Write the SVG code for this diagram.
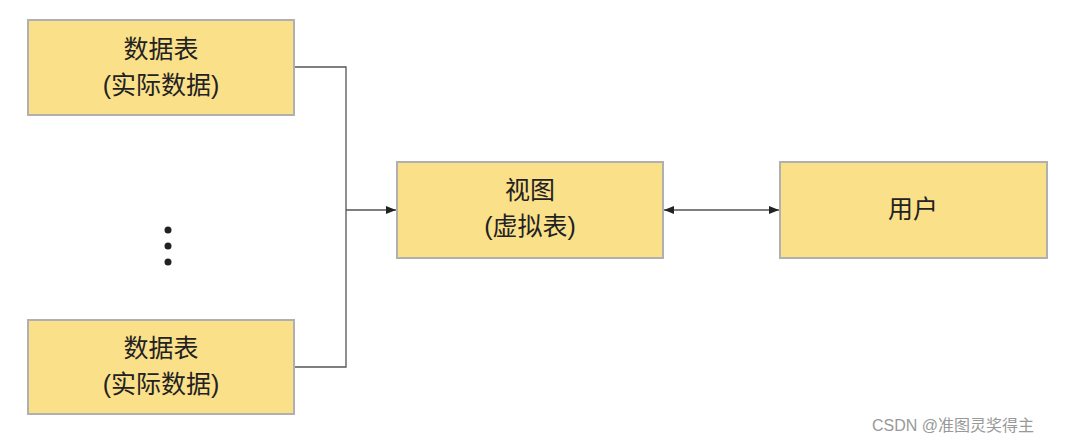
<svg xmlns="http://www.w3.org/2000/svg" width="1079" height="443" viewBox="0 0 1079 443">
<style>
.box{fill:#FBE08A;stroke:#B0B0B0;stroke-width:2}
.t{font-family:"Liberation Sans","Noto Sans CJK SC",sans-serif;font-size:25px;fill:#222;text-anchor:middle}
.c{fill:none;stroke:#555;stroke-width:1.3}
</style>
<defs>
<marker id="a" viewBox="0 0 10 10" refX="10" refY="5" markerWidth="8" markerHeight="8" orient="auto-start-reverse"><path d="M0,1 L10,5 L0,9 z" fill="#222"/></marker>
</defs>
<rect width="1079" height="443" fill="#fff"/>
<g id="connectors">
<path class="c" d="M294,67 H346 V367 H294"/>
<path class="c" d="M346,210 H396" marker-end="url(#a)"/>
<path class="c" d="M664,210 H779" marker-start="url(#a)" marker-end="url(#a)"/>
</g>
<g id="table1"><rect class="box" x="28" y="20" width="266" height="95"/><text class="t" x="161" y="58">数据表</text><text class="t" x="161" y="94">(实际数据)</text></g>
<g id="dots" fill="#222"><circle cx="168" cy="230" r="3.5"/><circle cx="168" cy="246" r="3.5"/><circle cx="168" cy="262" r="3.5"/></g>
<g id="table2"><rect class="box" x="28" y="320" width="266" height="94"/><text class="t" x="161" y="357">数据表</text><text class="t" x="161" y="393">(实际数据)</text></g>
<g id="view"><rect class="box" x="397" y="162" width="266" height="96"/><text class="t" x="530" y="199">视图</text><text class="t" x="530" y="235">(虚拟表)</text></g>
<g id="user"><rect class="box" x="780" y="162" width="267" height="96"/><text class="t" x="913" y="218">用户</text></g>
<text x="872" y="431" font-family="Liberation Sans,Noto Sans CJK SC,sans-serif" font-size="16" fill="#999">CSDN @准图灵奖得主</text>
</svg>
